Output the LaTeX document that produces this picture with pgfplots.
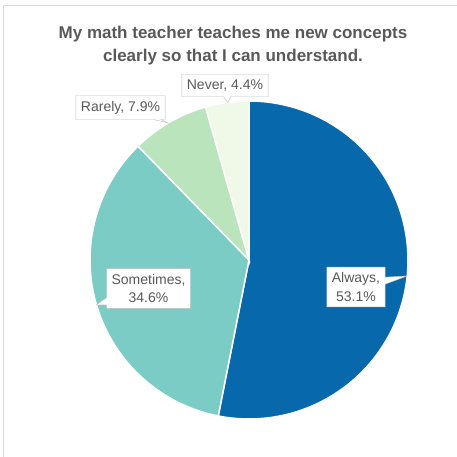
\documentclass[border=0pt]{standalone}
\usepackage{fontspec}
\setmainfont{Liberation Sans}
\usepackage{pgfplots}
\pgfplotsset{compat=1.18}
\usetikzlibrary{shapes.callouts}
\definecolor{cA}{HTML}{0868AC}
\definecolor{cS}{HTML}{7BCCC4}
\definecolor{cR}{HTML}{BAE4BC}
\definecolor{cN}{HTML}{F0F9E8}
\definecolor{txt}{HTML}{595959}
\definecolor{framec}{HTML}{D9D9D9}
\definecolor{boxc}{HTML}{BFBFBF}
% data (percent)
\def\vA{53.1}
\def\vS{34.6}
\def\vR{7.9}
\def\vN{4.4}
\pgfmathsetmacro{\aA}{90}
\pgfmathsetmacro{\aB}{\aA-3.6*\vA}
\pgfmathsetmacro{\aC}{\aB-3.6*\vS}
\pgfmathsetmacro{\aD}{\aC-3.6*\vR}
\pgfmathsetmacro{\aE}{\aD-3.6*\vN}
\begin{document}
\begin{tikzpicture}
\begin{axis}[hide axis, scale only axis, width=457pt, height=457pt,
  xmin=0, xmax=457, ymin=0, ymax=457, clip=false, at={(0,0)}, anchor=south west]
\addplot[fill=cA, draw=white, line width=1.5pt, domain=\aB:\aA, samples=90, variable=\t]
  ({249+159*cos(t)},{197+159*sin(t)}) -- (axis cs:249,197) -- cycle;
\addplot[fill=cS, draw=white, line width=1.5pt, domain=\aC:\aB, samples=70, variable=\t]
  ({249+159*cos(t)},{197+159*sin(t)}) -- (axis cs:249,197) -- cycle;
\addplot[fill=cR, draw=white, line width=1.5pt, domain=\aD:\aC, samples=30, variable=\t]
  ({249+159*cos(t)},{197+159*sin(t)}) -- (axis cs:249,197) -- cycle;
\addplot[fill=cN, draw=white, line width=1.5pt, domain=\aE:\aD, samples=20, variable=\t]
  ({249+159*cos(t)},{197+159*sin(t)}) -- (axis cs:249,197) -- cycle;
% frame
\draw[framec, line width=1pt] (axis cs:3,0) -- (axis cs:3,451) -- (axis cs:457,451);
% title
\node[anchor=base, font=\bfseries\fontsize{17}{23}\selectfont, text=txt]
  at (axis cs:233,418) {My math teacher teaches me new concepts};
\node[anchor=base, font=\bfseries\fontsize{17}{23}\selectfont, text=txt]
  at (axis cs:233,395) {clearly so that I can understand.};
% labels
\tikzset{lbl/.style={rectangle callout, draw=boxc, fill=white, text=txt, align=center,
  font=\fontsize{14}{18.5}\selectfont, inner xsep=5pt, inner ysep=5.5pt}}
\node[lbl, callout absolute pointer={(axis cs:407,181)}] at (axis cs:356,170) {Always,\\53.1\%};
\node[lbl, callout absolute pointer={(axis cs:96,152)}] at (axis cs:148.5,168.5) {Sometimes,\\34.6\%};
\node[lbl, callout absolute pointer={(axis cs:168,334)}] at (axis cs:120.5,349.5) {Rarely, 7.9\%};
\node[lbl, callout absolute pointer={(axis cs:228,354)}] at (axis cs:225,371.5) {Never, 4.4\%};
\coordinate (BL) at (axis cs:0,0);
\coordinate (TR) at (axis cs:457,457);
\end{axis}
\pgfresetboundingbox
\path[use as bounding box] (BL) rectangle (TR);
\end{tikzpicture}
\end{document}
